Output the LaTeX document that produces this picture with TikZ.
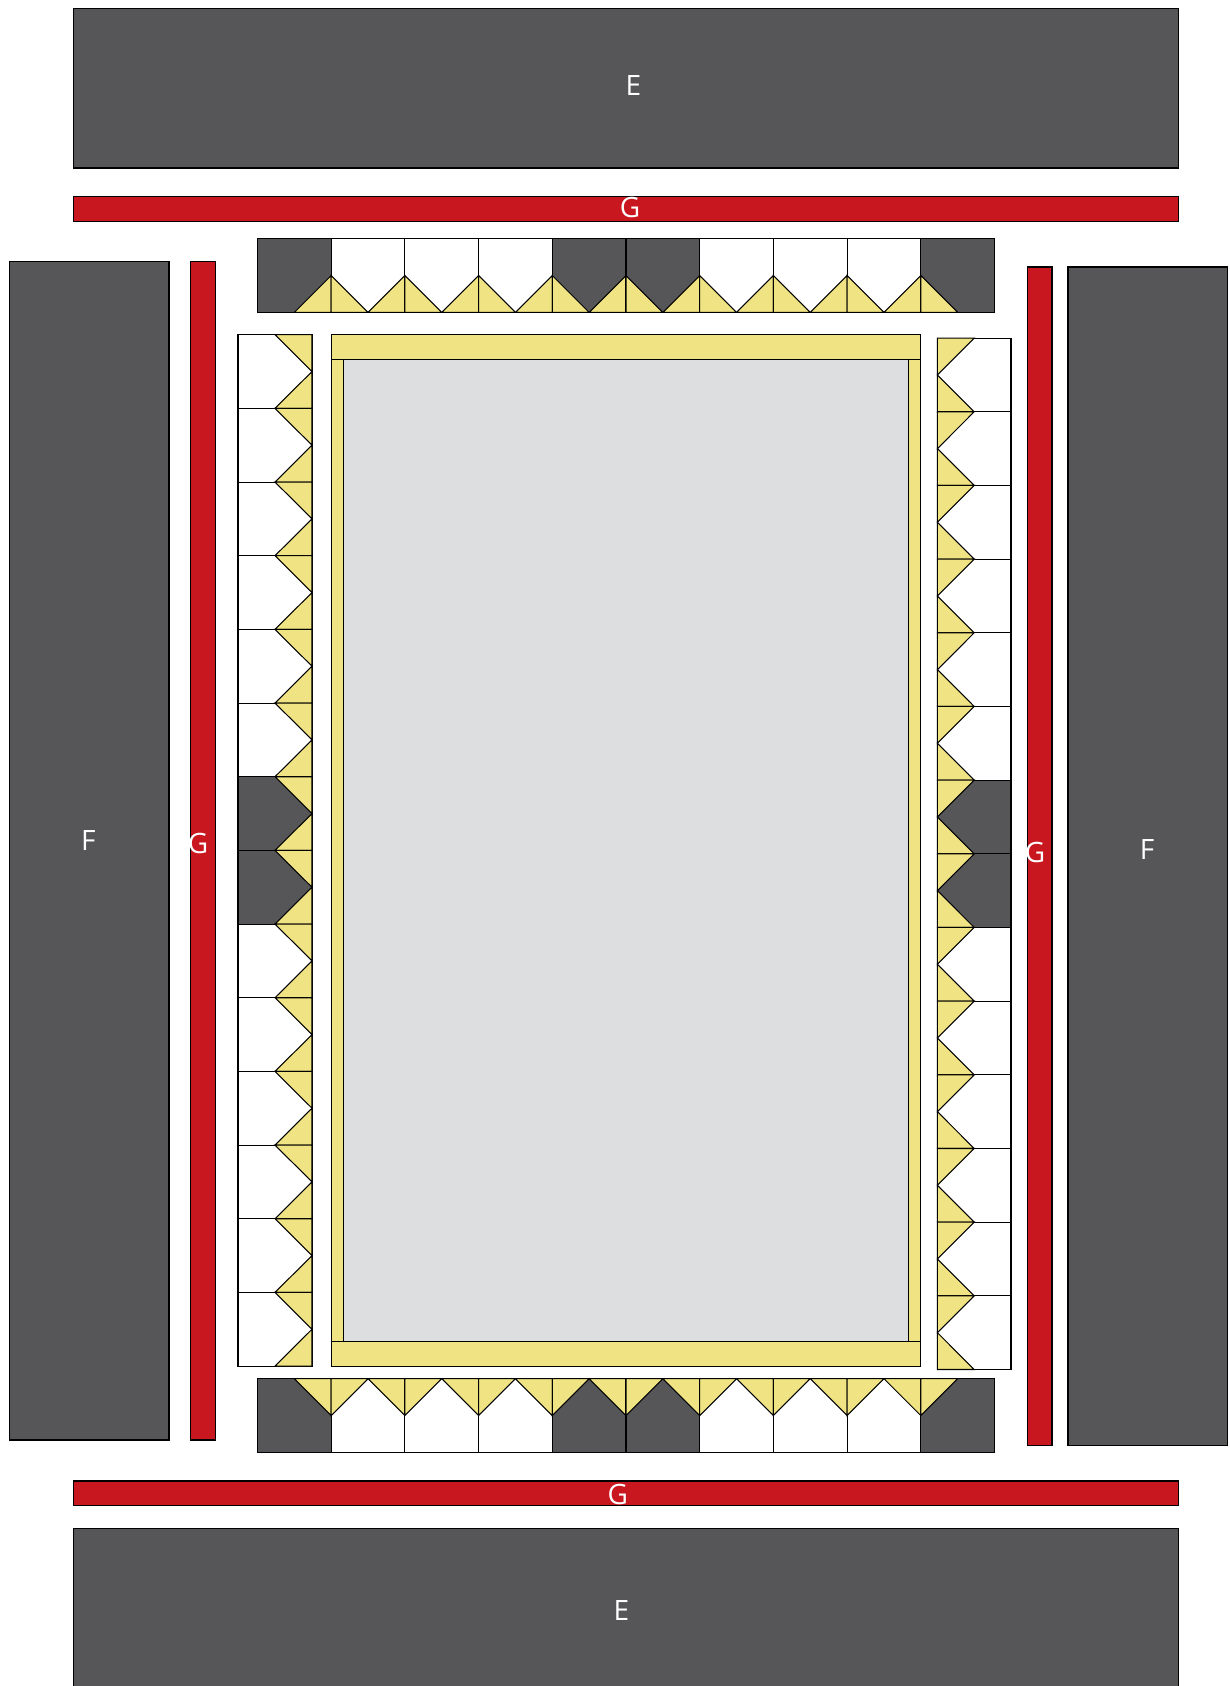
\documentclass[tikz,border=0pt]{standalone}
\usepackage{fontspec}
\setmainfont{Open Sans}
\definecolor{darkq}{HTML}{565658}
\definecolor{redq}{HTML}{C9171F}
\definecolor{yelq}{HTML}{F0E383}
\definecolor{greyq}{HTML}{DDDEE0}
\tikzset{
  part/.style={draw=black,line width=1.05pt,line join=miter},
  darkpart/.style={part,fill=darkq},
  redpart/.style={part,fill=redq},
  yelpart/.style={part,fill=yelq},
  whitepart/.style={part,fill=white},
  greypart/.style={part,fill=greyq},
  lab/.style={text=white,font=\fontsize{28}{28}\selectfont,inner sep=0pt}
}
\begin{document}
\begin{tikzpicture}[x=1pt,y=-1pt]
\clip (0,0) rectangle (1230,1686);
\fill[white] (0,0) rectangle (1230,1686);
% large borders
\draw[darkpart] (73.4,8.6) rectangle (1178.4,168);
\draw[darkpart] (73.4,1528.3) rectangle (1178.4,1700);
\draw[darkpart] (9.2,261.3) rectangle (169,1440);
\draw[darkpart] (1068,267) rectangle (1227.8,1445.3);
% red strips
\draw[redpart] (73.4,196.8) rectangle (1178.4,221.6);
\draw[redpart] (73.4,1481) rectangle (1178.4,1505.6);
\draw[redpart] (190.7,261.3) rectangle (215.3,1440);
\draw[redpart] (1027.4,267) rectangle (1052,1445.3);
% centre frame
\draw[greypart] (343.7,359.5) rectangle (908.3,1341.3);
\draw[yelpart] (331.4,359.5) rectangle (343.7,1341.3);
\draw[yelpart] (908.3,359.5) rectangle (920.7,1341.3);
\draw[yelpart] (331.4,334.7) rectangle (920.7,359.5);
\draw[yelpart] (331.4,1341.3) rectangle (920.7,1366.3);
% top and bottom strips
\def\cw{73.7}
\def\ch{36.85}
\foreach \i/\kind in {0/darkpart,1/whitepart,2/whitepart,3/whitepart,4/darkpart,5/darkpart,6/whitepart,7/whitepart,8/whitepart,9/darkpart}{
  \pgfmathsetmacro{\xa}{257.5+\i*\cw}
  \pgfmathsetmacro{\xb}{\xa+\cw}
  \pgfmathsetmacro{\xc}{\xa+\ch}
  \draw[\kind] (\xa,238.7) rectangle (\xb,312.4);
  \draw[\kind] (\xa,1378.7) rectangle (\xb,1452.4);
  \ifnum\i>0
    \draw[yelpart] (\xa,275.55) -- (\xa,312.4) -- (\xc,312.4) -- cycle;
    \draw[yelpart] (\xa,1415.55) -- (\xa,1378.7) -- (\xc,1378.7) -- cycle;
  \fi
  \ifnum\i<9
    \draw[yelpart] (\xb,275.55) -- (\xb,312.4) -- (\xc,312.4) -- cycle;
    \draw[yelpart] (\xb,1415.55) -- (\xb,1378.7) -- (\xc,1378.7) -- cycle;
  \fi
}
% left and right strips
\def\cwv{73.67}
\def\chv{36.83}
\foreach \i/\kind in {0/whitepart,1/whitepart,2/whitepart,3/whitepart,4/whitepart,5/whitepart,6/darkpart,7/darkpart,8/whitepart,9/whitepart,10/whitepart,11/whitepart,12/whitepart,13/whitepart}{
  \pgfmathsetmacro{\ya}{334.7+\i*\cwv}
  \pgfmathsetmacro{\yb}{\ya+\cwv}
  \pgfmathsetmacro{\yc}{\ya+\chv}
  \draw[\kind] (238,\ya) rectangle (312,\yb);
  \draw[yelpart] (275,\ya) -- (312,\ya) -- (312,\yc) -- cycle;
  \draw[yelpart] (275,\yb) -- (312,\yb) -- (312,\yc) -- cycle;
  \pgfmathsetmacro{\yra}{338.1+\i*\cwv}
  \pgfmathsetmacro{\yrb}{\yra+\cwv}
  \pgfmathsetmacro{\yrc}{\yra+\chv}
  \draw[\kind] (937.4,\yra) rectangle (1011,\yrb);
  \draw[yelpart] (974.2,\yra) -- (937.4,\yra) -- (937.4,\yrc) -- cycle;
  \draw[yelpart] (974.2,\yrb) -- (937.4,\yrb) -- (937.4,\yrc) -- cycle;
}
% labels
\node[lab] (e1) at (633.3,85.5) {E};
\node[lab] (e2) at (621.3,1610) {E};
\node[lab] (f1) at (88.3,840) {F};
\node[lab] (f2) at (1147,849) {F};
\node[lab] (g1) at (630,207.8) {G};
\node[lab] (g2) at (617.7,1494.3) {G};
\node[lab] (g3) at (198,843.5) {G};
\node[lab] (g4) at (1035,852.7) {G};
\end{tikzpicture}
\end{document}
